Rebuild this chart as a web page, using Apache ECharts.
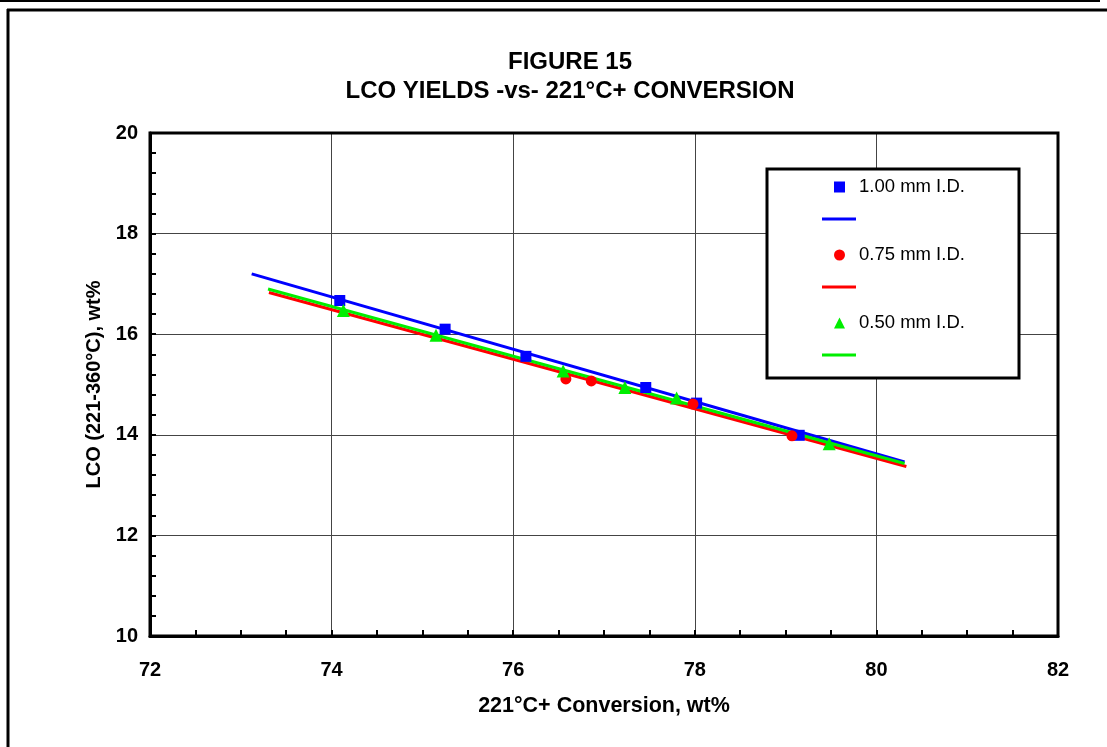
<!DOCTYPE html>
<html>
<head>
<meta charset="utf-8">
<script src="https://cdn.jsdelivr.net/npm/echarts@6/dist/echarts.min.js"></script>
<style>
  html, body { margin: 0; padding: 0; background: #fff; }
  #chart { width: 1107px; height: 747px; }
</style>
</head>
<body>
<div id="chart"></div>
<script>
// ---- Data ----
const titleLines = ['FIGURE 15', 'LCO YIELDS -vs- 221°C+ CONVERSION'];
const xAxisName = '221°C+ Conversion, wt%';
const yAxisName = 'LCO (221-360°C), wt%';

const seriesNames = ['1.00 mm I.D.', '0.75 mm I.D.', '0.50 mm I.D.'];

const x100 = [74.09, 75.25, 76.14, 77.46, 78.02, 79.15];
const y100 = [16.67, 16.10, 15.56, 14.94, 14.63, 13.99];

const x075 = [76.58, 76.86, 77.98, 79.07];
const y075 = [15.11, 15.07, 14.61, 13.98];

const x050 = [74.13, 75.15, 76.55, 77.23, 77.80, 79.48];
const y050 = [16.47, 15.98, 15.27, 14.94, 14.73, 13.82];

// trend-line end points
const fit100X = [73.12, 80.31];
const fit100Y = [17.20, 13.46];
const fit075X = [73.31, 80.33];
const fit075Y = [16.83, 13.37];
const fit050X = [73.30, 80.31];
const fit050Y = [16.90, 13.43];

const xMin = 72, xMax = 82, xStep = 2;
const yMin = 10, yMax = 20, yStep = 2;

// ---- Build ----
const zip = (xs, ys) => xs.map((x, i) => [x, ys[i]]);
const colors = ['#0000ff', '#ff0000', '#00ee00'];
const symbols = ['rect', 'circle', 'triangle'];
const symSizes = [11, 11, 13];
const pts = [zip(x100, y100), zip(x075, y075), zip(x050, y050)];
const fits = [zip(fit100X, fit100Y), zip(fit075X, fit075Y), zip(fit050X, fit050Y)];
const fitNames = seriesNames.map(n => n + ' fit');

const series = [];
[0, 1, 2].forEach(i => {
  series.push({
    name: fitNames[i], type: 'line', data: fits[i],
    showSymbol: false, symbol: 'none', silent: true, z: 2 + i * 0.1,
    lineStyle: { color: colors[i], width: 3 }, itemStyle: { color: colors[i] },
    animation: false
  });
});
[0, 1, 2].forEach(i => {
  series.push({
    name: seriesNames[i], type: 'scatter', data: pts[i],
    symbol: symbols[i], symbolSize: symSizes[i], z: 5,
    itemStyle: { color: colors[i], opacity: 1 }, animation: false
  });
});

const font = 'Liberation Sans, Arial, sans-serif';
const legendRows = [187, 219, 255, 287, 323, 355];
const legends = [];
[0, 1, 2].forEach(i => {
  legends.push({
    data: [{ name: seriesNames[i], icon: symbols[i] }],
    left: 834, top: legendRows[i * 2] - 10, padding: 0,
    itemWidth: 11, itemHeight: 11,
    selectedMode: false, z: 10,
    textStyle: { fontFamily: font, fontSize: 18.5, color: '#000', lineHeight: 20, padding: [0, 0, 0, 9] }
  });
  legends.push({
    data: [{ name: fitNames[i], icon: 'path://M0 0H34V3H0Z' }],
    left: 822, top: legendRows[i * 2 + 1] - 1.5, padding: 0,
    itemWidth: 34, itemHeight: 3,
    selectedMode: false, z: 10, formatter: () => '',
    textStyle: { fontFamily: font, fontSize: 18, color: '#000' }
  });
});

const chart = echarts.init(document.getElementById('chart'), null, { renderer: 'canvas' });
chart.setOption({
  animation: false,
  backgroundColor: '#fff',
  title: {
    text: titleLines.join('\n'),
    left: 570, top: 48, padding: 0, textAlign: 'center',
    textStyle: { fontFamily: font, fontWeight: 'bold', fontSize: 24, lineHeight: 29, color: '#000' }
  },
  grid: { left: 150, top: 133, right: 49, bottom: 111, show: true, borderColor: '#000', borderWidth: 3, backgroundColor: 'transparent', z: 1 },
  xAxis: {
    type: 'value', min: xMin, max: xMax, interval: xStep,
    name: xAxisName, nameLocation: 'middle', nameGap: 59,
    nameTextStyle: { fontFamily: font, fontWeight: 'bold', fontSize: 21.5, color: '#000' },
    axisLine: { show: true, lineStyle: { color: '#000', width: 3 } },
    axisTick: { show: true, inside: true, length: 6, lineStyle: { color: '#000', width: 2 } },
    minorTick: { show: true, splitNumber: 4, length: 6, lineStyle: { color: '#000', width: 2 } },
    splitLine: { show: true, lineStyle: { color: '#444', width: 1 } },
    axisLabel: { fontFamily: font, fontWeight: 'bold', fontSize: 20, color: '#000', margin: 24 }
  },
  yAxis: {
    type: 'value', min: yMin, max: yMax, interval: yStep,
    name: yAxisName, nameLocation: 'middle', nameGap: 46, nameRotate: 90,
    nameTextStyle: { fontFamily: font, fontWeight: 'bold', fontSize: 20, color: '#000' },
    axisLine: { show: true, lineStyle: { color: '#000', width: 3 } },
    axisTick: { show: true, inside: true, length: 6, lineStyle: { color: '#000', width: 2 } },
    minorTick: { show: true, splitNumber: 5, length: 6, lineStyle: { color: '#000', width: 2 } },
    splitLine: { show: true, lineStyle: { color: '#444', width: 1 } },
    axisLabel: { fontFamily: font, fontWeight: 'bold', fontSize: 20, color: '#000', margin: 12 }
  },
  legend: legends,
  graphic: [
    { type: 'line', z: 0, shape: { x1: 0, y1: 1, x2: 1100, y2: 1 }, style: { stroke: '#000', lineWidth: 2 } },
    { type: 'line', z: 0, shape: { x1: 7, y1: 10, x2: 1107, y2: 10 }, style: { stroke: '#000', lineWidth: 3 } },
    { type: 'line', z: 0, shape: { x1: 8, y1: 9, x2: 8, y2: 747 }, style: { stroke: '#000', lineWidth: 3 } },
    { type: 'rect', z: 8, shape: { x: 767, y: 169, width: 252, height: 209 }, style: { fill: '#fff', stroke: '#000', lineWidth: 3 } }
  ],
  series: series
});
</script>
</body>
</html>
